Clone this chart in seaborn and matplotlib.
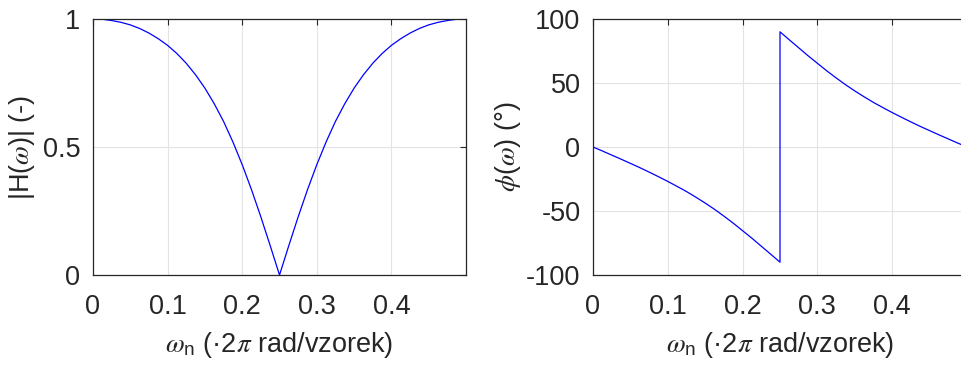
import pandas as pd
import seaborn as sns
import matplotlib.pyplot as plt

# --- data ---
# normalised frequency (x 2pi rad/sample)
omega_mag = [0.0000, 0.0125, 0.0250, 0.0375, 0.0500, 0.0625, 0.0750, 0.0875, 0.1000, 0.1125,
             0.1250, 0.1375, 0.1500, 0.1625, 0.1750, 0.1875, 0.2000, 0.2125, 0.2250, 0.2375,
             0.2500, 0.2625, 0.2750, 0.2875, 0.3000, 0.3125, 0.3250, 0.3375, 0.3500, 0.3625,
             0.3750, 0.3875, 0.4000, 0.4125, 0.4250, 0.4375, 0.4500, 0.4625, 0.4750, 0.4875,
             0.5000]
magnitude = [1.000, 0.999, 0.994, 0.987, 0.977, 0.963, 0.945, 0.923, 0.897, 0.865,
             0.827, 0.782, 0.730, 0.669, 0.600, 0.520, 0.431, 0.333, 0.227, 0.115,
             0.000, 0.115, 0.227, 0.333, 0.431, 0.520, 0.600, 0.669, 0.730, 0.782,
             0.827, 0.865, 0.897, 0.923, 0.945, 0.963, 0.977, 0.987, 0.994, 0.999,
             1.000]

# phase has a jump at 0.25, so that x appears twice
omega_phase = [0.0000, 0.0125, 0.0250, 0.0375, 0.0500, 0.0625, 0.0750, 0.0875, 0.1000, 0.1125,
               0.1250, 0.1375, 0.1500, 0.1625, 0.1750, 0.1875, 0.2000, 0.2125, 0.2250, 0.2375,
               0.2500, 0.2500, 0.2625, 0.2750, 0.2875, 0.3000, 0.3125, 0.3250, 0.3375, 0.3500,
               0.3625, 0.3750, 0.3875, 0.4000, 0.4125, 0.4250, 0.4375, 0.4500, 0.4625, 0.4750,
               0.4875, 0.5000]
phase_deg = [0.0, -3.1, -6.3, -9.5, -12.8, -16.1, -19.6, -23.2, -26.9, -30.8,
             -34.8, -39.2, -43.8, -48.7, -54.0, -59.5, -65.4, -71.3, -77.5, -83.7,
             -90.0, 90.0, 83.7, 77.5, 71.3, 65.4, 59.5, 54.0, 48.7, 43.8,
             39.2, 34.8, 30.8, 26.9, 23.2, 19.6, 16.1, 12.8, 9.5, 6.3,
             3.1, 0.0]

x_ticks = [0, 0.1, 0.2, 0.3, 0.4]
x_ticklabels = ['0', '0.1', '0.2', '0.3', '0.4']
mag_ticks = [0, 0.5, 1]
mag_ticklabels = ['0', '0.5', '1']
phase_ticks = [-100, -50, 0, 50, 100]
phase_ticklabels = ['-100', '-50', '0', '50', '100']

x_label = r'$\omega_{\mathrm{n}}$ (·2$\pi$ rad/vzorek)'
mag_label = r'|H($\omega$)| (-)'
phase_label = r'$\phi$($\omega$) (°)'

df_mag = pd.DataFrame({'omega': omega_mag, 'mag': magnitude})
df_phase = pd.DataFrame({'omega': omega_phase, 'phase': phase_deg})

# --- style (MATLAB-like) ---
sns.set_theme(style='white')
plt.rcParams['font.family'] = ['Liberation Sans', 'DejaVu Sans']
plt.rcParams['mathtext.fontset'] = 'custom'
plt.rcParams['mathtext.rm'] = 'Liberation Sans'
plt.rcParams['mathtext.it'] = 'STIXGeneral:italic'
plt.rcParams['mathtext.bf'] = 'Liberation Sans:bold'
dark = '#262626'
fs = 19.5

fig = plt.figure(figsize=(9.61, 3.65), dpi=100)
ax1 = fig.add_axes([93 / 961, 90 / 365, 373 / 961, 256 / 365])
ax2 = fig.add_axes([593 / 961, 90 / 365, 374 / 961, 256 / 365])

sns.lineplot(data=df_mag, x='omega', y='mag', ax=ax1, color='#0000ff',
             linewidth=0.9, estimator=None, sort=False)
sns.lineplot(data=df_phase, x='omega', y='phase', ax=ax2, color='#0000ff',
             linewidth=0.9, estimator=None, sort=False)

ax1.set_ylim(0, 1)
ax1.set_yticks(mag_ticks, mag_ticklabels)
ax1.set_ylabel(mag_label, fontsize=fs, color=dark, labelpad=4)

ax2.set_ylim(-100, 100)
ax2.set_yticks(phase_ticks, phase_ticklabels)
ax2.set_ylabel(phase_label, fontsize=fs, color=dark, labelpad=2)

for ax in (ax1, ax2):
    ax.set_xlim(0, 0.5)
    ax.set_xticks(x_ticks, x_ticklabels)
    ax.set_xlabel(x_label, fontsize=fs, color=dark, labelpad=7)
    ax.grid(True, color='#e3e3e3', linewidth=0.8)
    ax.set_axisbelow(True)
    ax.tick_params(direction='in', length=4, width=0.8, colors=dark,
                   labelsize=fs, top=True, right=True, pad=9)
    ax.tick_params(axis='x', pad=14)
    for s in ax.spines.values():
        s.set_visible(True)
        s.set_color(dark)
        s.set_linewidth(0.9)

fig.savefig('out.png', dpi=100)
